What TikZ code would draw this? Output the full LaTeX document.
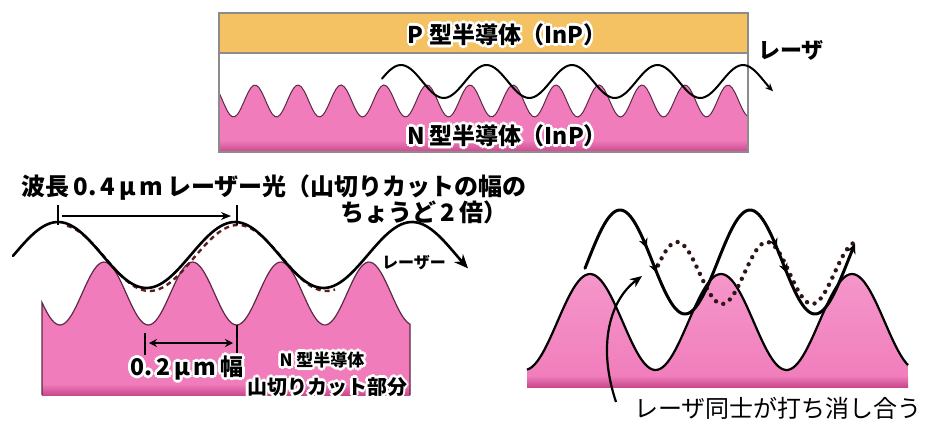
\documentclass[tikz,border=0pt]{standalone}
\usepackage{fontspec}
\newfontfamily\jp{Noto Sans CJK JP}
\usepackage{tikz}
\usetikzlibrary{arrows.meta}

\definecolor{bandorange}{HTML}{F5C263}
\definecolor{npink}{HTML}{F07CBB}
\definecolor{npinklight}{HTML}{F596CA}
\definecolor{npinkdark}{HTML}{C9498C}
\definecolor{edgepink}{HTML}{5C2A44}
\definecolor{dotdark}{HTML}{2E1616}
\definecolor{dashbrown}{HTML}{5A1F22}
\definecolor{framegray}{HTML}{8C8C8C}

\tikzset{
  lbl/.style={inner sep=0pt},
  jbig/.style={font=\jp\bfseries\fontsize{11.5pt}{13pt}\selectfont},
  jmid/.style={font=\jp\bfseries\fontsize{12pt}{13pt}\selectfont},
  jsmall/.style={font=\jp\bfseries\fontsize{8pt}{9pt}\selectfont},
  wave/.style={line width=1.3pt, line join=round, line cap=round},
  tick/.style={line width=0.8pt}
}

% white halo copies behind a label, then the label itself
\newcommand{\glownode}[4][]{%
  \foreach \a in {0,45,...,315}
    \node[lbl,#1,text=white,shift={(\a:1.4pt)}] at #3 {#4};
  \node[lbl,#1] (#2) at #3 {#4};}

\begin{document}
\begin{tikzpicture}[x=0.5pt,y=-0.5pt]
  \useasboundingbox (0,0) rectangle (930,423);

  % layered chip
  \fill[bandorange] (219,13) rectangle (748,53);
  \fill[npink]
    (219,152) -- plot[domain=219:748,samples=200] (\x,{101-16*cos((\x-255)/43*360)}) -- (748,152) -- cycle;
  \shade[top color=npink, bottom color=npinkdark] (219,140) rectangle (748,152);
  \draw[edgepink,line width=0.5pt] plot[domain=219:748,samples=200] (\x,{101-16*cos((\x-255)/43*360)});
  \draw[framegray,line width=0.6pt] (219,13) rectangle (748,152);
  \draw[framegray,line width=0.6pt] (219,53) -- (748,53);
  \glownode[jbig]{ptype}{(507,35)}{P 型半導体（InP）}
  \glownode[jbig]{ntype}{(507,136)}{N 型半導体（InP）}
  \draw[wave,line width=1pt,-{Stealth[length=4pt,width=3.5pt]}]
    plot[domain=382:773,samples=150] (\x,{81.5-16.5*cos((\x-401)/85.5*360)});
  \node[lbl,font=\jp\bfseries\fontsize{11pt}{12pt}\selectfont] (lasertop) at (791,50) {レーザ};

  % cut profile with wavelength
  \shade[top color=npink, middle color=npinklight, bottom color=npink]
    (42,395) -- plot[domain=42:410,samples=150] (\x,{293.5+31.5*cos((\x-60)/88.3*360)}) -- (410,395) -- cycle;
  \shade[top color=npink, bottom color=npinkdark] (42,384) rectangle (410,395);
  \draw[edgepink,line width=0.6pt] (42,395) -- plot[domain=42:410,samples=150] (\x,{293.5+31.5*cos((\x-60)/88.3*360)}) -- (410,395);
  \begin{scope}[shift={(3,3)}]
    \draw[dashbrown,line width=1.2pt,dash pattern=on 2.5pt off 2pt]
      plot[domain=64:332,samples=100] (\x,{255-33*cos((\x-58)/177*360)});
  \end{scope}
  \draw[wave,-{Stealth[length=7pt,width=6pt]}]
    plot[domain=13:468,samples=150] (\x,{255-33*cos((\x-58)/177*360)});
  \node[lbl,jmid,anchor=west] (wavelen) at (21,188) {波長\,0.\,4\,μ\,m\,レーザー光（山切りカットの幅の};
  \node[lbl,jmid,anchor=east] (twice) at (508,212) {ちょうど\,2\,倍）};
  \node[lbl,jsmall] (laserleft) at (414,263) {レーザー};
  \coordinate (wl1) at (58,216);
  \coordinate (wl2) at (237,216);
  \draw[tick] (wl1) ++(0,-11) -- ++(0,20);
  \draw[tick] (wl2) ++(0,-11) -- ++(0,20);
  \draw[line width=0.9pt,-{Stealth[length=5pt,width=4pt]},shorten <=2pt,shorten >=3pt] (wl1) -- (wl2);
  \coordinate (wd1) at (145,343);
  \coordinate (wd2) at (237,343);
  \draw[tick] (wd1) ++(0,-10) -- ++(0,22);
  \draw[tick] (wd2) ++(0,-18) -- ++(0,28);
  \draw[line width=0.9pt,{Stealth[length=4pt,width=4pt]}-{Stealth[length=4pt,width=4pt]},shorten <=2pt,shorten >=2pt] (wd1) -- (wd2);
  \glownode[font=\jp\bfseries\fontsize{11.5pt}{12pt}\selectfont]{width}{(187,368)}{0.\,2\,μ\,m\,幅}
  \glownode[font=\jp\bfseries\fontsize{8.5pt}{9pt}\selectfont]{ncut1}{(322,360)}{N 型半導体}
  \glownode[font=\jp\bfseries\fontsize{10pt}{11pt}\selectfont]{ncut2}{(327,387)}{山切りカット部分}

  % two lasers cancelling
  \shade[top color=npinklight, bottom color=npink]
    (527,387) -- plot[domain=527:908,samples=150] (\x,{322-48*cos((\x-590)/131*360)}) -- (908,387) -- cycle;
  \shade[top color=npink, bottom color=npinkdark] (527,376) rectangle (908,387);
  \draw[line width=1.1pt] plot[domain=527:908,samples=150] (\x,{322-48*cos((\x-590)/131*360)});
  \draw[dotdark,line width=2.2pt,line cap=round,dash pattern=on 0pt off 4pt]
    plot[domain=658:853,samples=120] (\x,{273-31*cos((\x-677)/90*360)});
  \draw[wave,line width=1.5pt,-{Stealth[length=5pt,width=4.5pt]}]
    plot[domain=585:855,samples=150] (\x,{262-52*cos((\x-620)/130*360)});
  \foreach \p in {647,657,777,787}
    \draw[-{Stealth[length=5pt,width=4.5pt]}] ({\p-1.5},{262-52*cos((\p-1.5-620)/130*360)}) -- (\p,{262-52*cos((\p-620)/130*360)});
  \coordinate (cstart) at (616,402);
  \draw[line width=1.1pt,-{Stealth[length=6pt,width=5pt]}] (cstart) .. controls (597,345) and (610,300) .. (642,276);
  \node[lbl,font=\jp\fontsize{12pt}{13pt}\selectfont] (cancel) at (778,408) {レーザ同士が打ち消し合う};
\end{tikzpicture}
\end{document}
